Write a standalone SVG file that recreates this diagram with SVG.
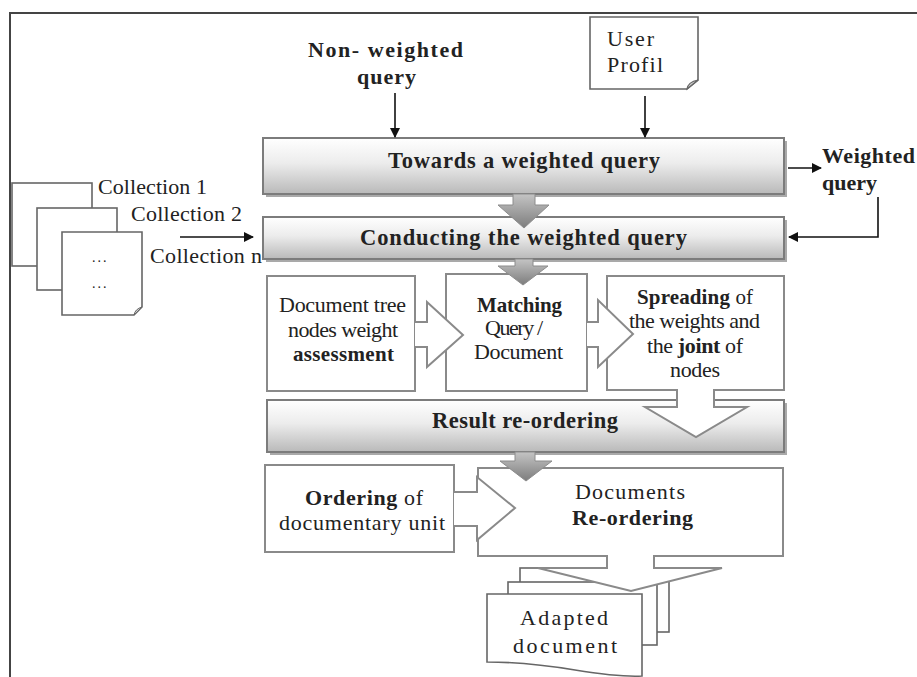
<svg xmlns="http://www.w3.org/2000/svg" width="917" height="677" viewBox="0 0 917 677">
<style>
text{font-family:"Liberation Serif","Times New Roman",serif;font-size:22px;fill:#222}
.b{font-weight:bold}
.sm{font-size:21px}
.bt{font-size:22.5px;font-weight:bold}
.box{fill:#fff;stroke:#8a8a8a;stroke-width:2}
.bar{fill:url(#barGrad);stroke:#7c7c7c;stroke-width:2}
.shadow{fill:#a9a9a9}
.garrow{fill:url(#arrGrad);stroke:#8c8c8c;stroke-width:1}
.harrow{fill:#fff;stroke:#8a8a8a;stroke-width:2;stroke-linejoin:miter}
.doc{fill:#fff;stroke:#666;stroke-width:1.6}
.conn{fill:none;stroke:#111;stroke-width:1.6}
</style>
<defs>
<linearGradient id="barGrad" x1="0" y1="0" x2="0" y2="1">
<stop offset="0" stop-color="#ffffff"/>
<stop offset="0.45" stop-color="#ececec"/>
<stop offset="1" stop-color="#b9b9b9"/>
</linearGradient>
<linearGradient id="arrGrad" x1="0" y1="0" x2="0" y2="1">
<stop offset="0" stop-color="#c4c4c4"/>
<stop offset="1" stop-color="#7d7d7d"/>
</linearGradient>
<marker id="ah" markerWidth="10" markerHeight="10" refX="9" refY="5" orient="auto" markerUnits="userSpaceOnUse">
<path d="M0,0 L10,5 L0,10 Z" fill="#111"/>
</marker>
</defs>

<g id="frame" fill="none" stroke="#444" stroke-width="2">
<path d="M10,677 V13 H917"/>
</g>

<g id="non-weighted-query">
<text class="b" x="308" y="57" textLength="155">Non- weighted</text>
<text class="b" x="357" y="84" textLength="59">query</text>
</g>

<g id="user-profil">
<path class="doc" d="M590,17 H698 V80 L687,89 H590 Z"/>
<path d="M687,89 Q688,82 698,80 Z" fill="#cfcfcf" stroke="#666" stroke-width="1.2"/>
<text x="607" y="46" textLength="47">User</text>
<text x="607" y="72" textLength="56">Profil</text>
</g>

<g id="collections">
<rect class="doc" x="12" y="183" width="80" height="83"/>
<rect class="doc" x="37" y="208" width="80" height="82"/>
<path class="doc" d="M62,232 H142 V307 L134,315 H62 Z"/>
<path d="M134,315 Q135,309 142,307 Z" fill="#cfcfcf" stroke="#666" stroke-width="1"/>
<text x="92" y="262" style="font-size:14px;letter-spacing:2px">...</text>
<text x="92" y="288" style="font-size:14px;letter-spacing:2px">...</text>
<text x="98" y="194" textLength="109">Collection 1</text>
<text x="131" y="221" textLength="111">Collection 2</text>
<text x="150" y="263" textLength="112">Collection n</text>
</g>

<g id="weighted-query-label">
<text class="b" x="822" y="163" textLength="93">Weighted</text>
<text class="b" x="822" y="190" textLength="55">query</text>
</g>

<g id="towards">
<rect class="shadow" x="266" y="141" width="521" height="56"/>
<rect class="bar" x="263" y="138" width="521" height="56"/>
<text class="bt" x="388" y="168" textLength="272">Towards a weighted query</text>
</g>

<g id="conducting">
<rect class="shadow" x="266" y="220" width="521" height="42"/>
<rect class="bar" x="263" y="217" width="521" height="42"/>
<text class="bt" x="360" y="245" textLength="327">Conducting the weighted query</text>
</g>

<g id="doc-tree">
<rect class="box" x="267" y="276" width="148" height="115"/>
<text x="279" y="312" textLength="127">Document tree</text>
<text x="288" y="337" textLength="110">nodes weight</text>
<text class="b sm" x="293" y="361" textLength="101">assessment</text>
</g>

<g id="matching">
<rect class="box" x="446" y="274" width="141" height="117"/>
<text class="b sm" x="477" y="312" textLength="85">Matching</text>
<text x="485" y="335" textLength="58">Query /</text>
<text x="474" y="359" textLength="89">Document</text>
</g>

<g id="spreading">
<rect class="box" x="607" y="276" width="177" height="114"/>
<text class="sm" x="637" y="304" textLength="116"><tspan class="b">Spreading</tspan> of</text>
<text x="629" y="328" textLength="131">the weights and</text>
<text x="647" y="353" textLength="96">the <tspan class="b">joint</tspan> of</text>
<text x="670" y="377" textLength="50">nodes</text>
</g>

<g id="result">
<rect class="shadow" x="270" y="403" width="517" height="52"/>
<rect class="bar" x="267" y="400" width="517" height="52"/>
<text class="bt" x="432" y="428" textLength="186">Result re-ordering</text>
</g>

<g id="documents-reordering">
<rect class="box" x="478" y="468" width="305" height="88"/>
<text x="575" y="499" textLength="110">Documents</text>
<text class="b" x="572" y="525" textLength="121">Re-ordering</text>
</g>

<g id="ordering">
<rect class="box" x="265" y="465" width="189" height="87"/>
<text x="305" y="505" textLength="118"><tspan class="b">Ordering</tspan> of</text>
<text x="279" y="530" textLength="166">documentary unit</text>
</g>

<g id="adapted-document">
<rect class="doc" x="520" y="568" width="149" height="64" stroke="#777"/>
<rect class="doc" x="508" y="582" width="149" height="63" stroke="#777"/>
</g>

<g id="connectors">
<path class="conn" d="M395,93 V137" marker-end="url(#ah)"/>
<path class="conn" d="M645,96 V137" marker-end="url(#ah)"/>
<path class="conn" d="M788,168 H821" marker-end="url(#ah)"/>
<path class="conn" d="M878,197 V237 H789" marker-end="url(#ah)"/>
<path class="conn" d="M180,237 H253" marker-end="url(#ah)"/>
<path class="garrow" d="M513,194 H535 V205 H549 L524,228 L498,205 H513 Z"/>
<path class="garrow" d="M515,259 H533 V266 H548 L523,285 L498,266 H515 Z"/>
<path class="garrow" d="M515,452 H535 V461 H552 L526,481 L500,461 H515 Z"/>
<path class="harrow" d="M415,322 H427 V302 L463,335 L427,367 V347 H415"/>
<path class="harrow" d="M587,322 H598 V300 L633,334 L598,367 V347 H587"/>
<path class="harrow" d="M677,389 V407 H645 L696,437 L747,407 H714 V389"/>
<path class="harrow" d="M454,492 H477 V477 L515,508 L477,540 V526 H454"/>
<path class="harrow" d="M607,555 V568 H538 L631,591 L722,568 H654 V555"/>
</g>

<g id="adapted-front">
<path class="doc" stroke="#777" d="M487,594 H642 V676 C625,677 600,674 575,670 C545,665 515,662 487,662 Z"/>
<text x="520" y="625" textLength="88">Adapted</text>
<text x="513" y="653" textLength="104">document</text>
</g>
</svg>
